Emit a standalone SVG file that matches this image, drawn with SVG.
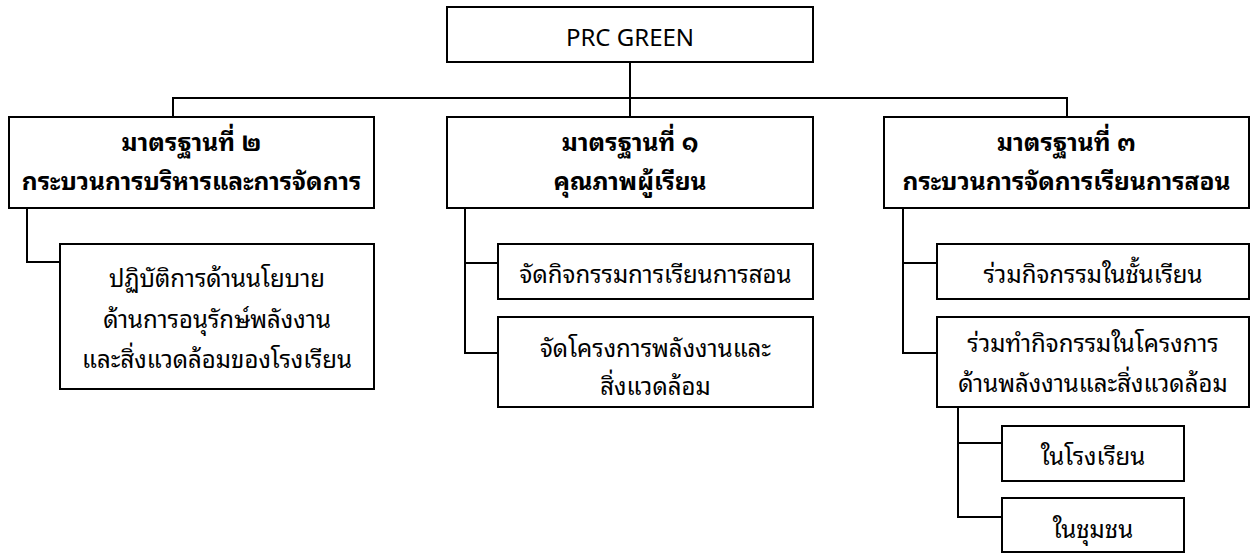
<svg xmlns="http://www.w3.org/2000/svg" width="1250" height="554" viewBox="0 0 1250 554">
<style>
.box{fill:#fff;stroke:#000;stroke-width:2}
.ln{fill:none;stroke:#000;stroke-width:2}
text{font-family:"Noto Sans Thai Looped","Noto Sans Thai","Noto Sans","DejaVu Sans",sans-serif;font-size:24px;fill:#000;text-anchor:middle}
.b{font-weight:bold;font-size:24.5px}
</style>
<rect width="1250" height="554" fill="#fff"/>
<g id="connectors">
<path class="ln" d="M630 62V117M173 117V98H1067V117"/>
<path class="ln" d="M27 208V262H60"/>
<path class="ln" d="M465 208V353H498M465 263H498"/>
<path class="ln" d="M903 208V353H937M903 263H937"/>
<path class="ln" d="M958 407V517H1002M958 443H1002"/>
</g>
<g id="root"><rect class="box" x="447" y="7" width="366" height="55"/><text x="630" y="46">PRC GREEN</text></g>
<g id="std2"><rect class="box" x="9" y="117" width="365" height="91"/><text class="b" x="191.5" y="151">มาตรฐานที่ ๒</text><text class="b" x="191.5" y="190">กระบวนการบริหารและการจัดการ</text></g>
<g id="std1"><rect class="box" x="447" y="117" width="366" height="91"/><text class="b" x="630" y="151">มาตรฐานที่ ๑</text><text class="b" x="630" y="190">คุณภาพผู้เรียน</text></g>
<g id="std3"><rect class="box" x="884" y="117" width="365" height="91"/><text class="b" x="1066.5" y="151">มาตรฐานที่ ๓</text><text class="b" x="1066.5" y="190">กระบวนการจัดการเรียนการสอน</text></g>
<g id="policy"><rect class="box" x="60" y="244" width="314" height="145"/><text x="217" y="287">ปฏิบัติการด้านนโยบาย</text><text x="217" y="328">ด้านการอนุรักษ์พลังงาน</text><text x="217" y="368">และสิ่งแวดล้อมของโรงเรียน</text></g>
<g id="teach"><rect class="box" x="498" y="244" width="315" height="55"/><text x="655.5" y="283">จัดกิจกรรมการเรียนการสอน</text></g>
<g id="project"><rect class="box" x="498" y="317" width="315" height="90"/><text x="655.5" y="357">จัดโครงการพลังงานและ</text><text x="655.5" y="395">สิ่งแวดล้อม</text></g>
<g id="class"><rect class="box" x="937" y="244" width="312" height="55"/><text x="1093" y="283">ร่วมกิจกรรมในชั้นเรียน</text></g>
<g id="activity"><rect class="box" x="937" y="317" width="312" height="90"/><text x="1093" y="352">ร่วมทำกิจกรรมในโครงการ</text><text x="1093" y="392">ด้านพลังงานและสิ่งแวดล้อม</text></g>
<g id="school"><rect class="box" x="1002" y="426" width="182" height="55"/><text x="1093" y="465">ในโรงเรียน</text></g>
<g id="community"><rect class="box" x="1002" y="498" width="182" height="54"/><text x="1093" y="538">ในชุมชน</text></g>
</svg>
